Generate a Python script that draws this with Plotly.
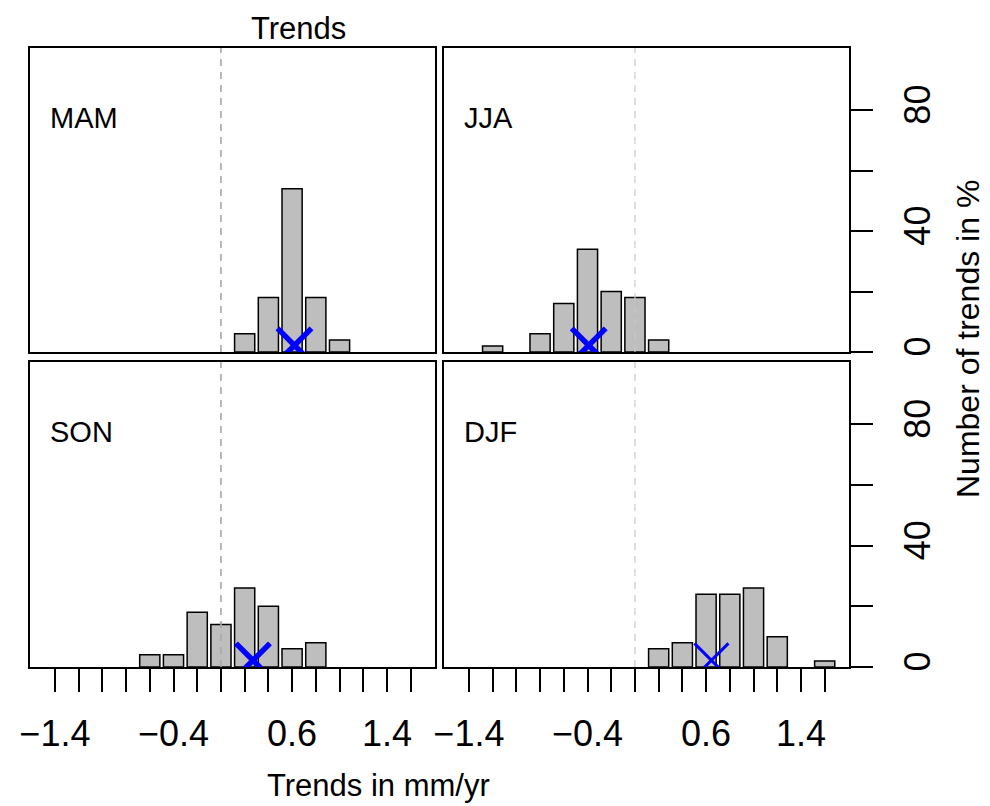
import plotly.graph_objects as go

# ---------------- data ----------------
seasons = ["MAM", "JJA", "SON", "DJF"]
mam_bins = [0.2, 0.4, 0.6, 0.8, 1.0]
mam_pct = [6, 18, 54, 18, 4]
jja_bins = [-1.2, -0.8, -0.6, -0.4, -0.2, 0.0, 0.2]
jja_pct = [2, 6, 16, 34, 20, 18, 4]
son_bins = [-0.6, -0.4, -0.2, 0.0, 0.2, 0.4, 0.6, 0.8]
son_pct = [4, 4, 18, 14, 26, 20, 6, 8]
djf_bins = [0.2, 0.4, 0.6, 0.8, 1.0, 1.2, 1.6]
djf_pct = [6, 8, 24, 24, 26, 10, 2]
observed_trend = [0.62, -0.39, 0.27, 0.645]
x_tick_vals = [-1.4, -1.2, -1.0, -0.8, -0.6, -0.4, -0.2, 0.0, 0.2, 0.4, 0.6, 0.8, 1.0, 1.2, 1.4, 1.6]
x_tick_labels = {-1.4: "\u22121.4", -0.4: "\u22120.4", 0.6: "0.6", 1.4: "1.4"}
y_tick_vals = [0, 20, 40, 60, 80]
y_tick_text = ["0", "", "40", "", "80"]

bins = [mam_bins, jja_bins, son_bins, djf_bins]
pcts = [mam_pct, jja_pct, son_pct, djf_pct]

# page body has an 8px default margin -> figure is drawn 8px in from the corner
OFF = 8
W, H = 990 - OFF, 806 - OFF
FONT = "Liberation Sans, Arial, Helvetica, sans-serif"


def px(x):
    return (x - OFF) / W


def py(y):
    return 1 - (y - OFF) / H


# panel pixel boxes in window coordinates (left, right, top, bottom)
panels = [(30, 435, 48, 352), (444, 849, 48, 352), (30, 435, 362, 667), (444, 849, 362, 667)]
x_range = [-1.61, 1.805]
y_range = [0, 100.5]
mark_lw = [5.5, 5.5, 5.5, 3]

fig = go.Figure()
layout = dict(
    width=W, height=H, margin=dict(l=0, r=0, t=0, b=0, autoexpand=False),
    paper_bgcolor="white", plot_bgcolor="white", showlegend=False,
    font=dict(family=FONT, color="black"),
)

shapes = []
annotations = []
tick_text_full = [x_tick_labels.get(round(v, 1), "") for v in x_tick_vals]

for i in range(4):
    n = "" if i == 0 else str(i + 1)
    xa, ya = "x" + n, "y" + n
    l, r, t, b = panels[i]
    fig.add_trace(go.Bar(
        x=bins[i], y=pcts[i], width=0.17, xaxis=xa, yaxis=ya,
        marker=dict(color="#BEBEBE", line=dict(color="black", width=1.5)),
    ))
    fig.add_trace(go.Scatter(
        x=[observed_trend[i]], y=[2.2], mode="markers", xaxis=xa, yaxis=ya,
        cliponaxis=True,
        marker=dict(symbol="x-thin", size=34, color="#0000FF",
                    line=dict(color="#0000FF", width=mark_lw[i])),
    ))
    bottom = i >= 2
    right = i % 2 == 1
    layout["xaxis" + n] = dict(
        domain=[px(l), px(r)], anchor=ya, range=x_range, automargin=False,
        showgrid=False, zeroline=False, showline=True, mirror=True,
        linecolor="black", linewidth=1.6,
        ticks="outside" if bottom else "", ticklen=23, tickwidth=1.5, tickcolor="black",
        tickvals=x_tick_vals, ticktext=tick_text_full,
        showticklabels=bottom, tickfont=dict(size=36, family=FONT),
        ticklabelstandoff=11,
    )
    layout["yaxis" + n] = dict(
        domain=[py(b), py(t)], anchor=xa, range=y_range, automargin=False,
        showgrid=False, zeroline=False, showline=True, mirror=True,
        linecolor="black", linewidth=1.6,
        side="right" if right else "left",
        ticks="outside" if right else "", ticklen=22, tickwidth=1.5, tickcolor="black",
        tickvals=y_tick_vals, ticktext=y_tick_text,
        showticklabels=right, tickangle=-90, tickfont=dict(size=36, family=FONT),
        ticklabelstandoff=14,
    )
    shapes.append(dict(
        type="line", xref=xa, yref=ya + " domain", x0=0, x1=0, y0=0, y1=1,
        line=dict(color="#A8A8A8" if not right else "#C8C8C8",
                  width=1.6 if not right else 1.2, dash="7px,6px"),
        layer="above",
    ))
    annotations.append(dict(
        text=seasons[i], xref="paper", yref="paper",
        x=px(l + 18), y=py(t + 70), xanchor="left", yanchor="middle",
        showarrow=False, font=dict(size=29, family=FONT, color="black"),
    ))

annotations.append(dict(text="Trends", xref="paper", yref="paper", x=px(298), y=py(28),
                        xanchor="center", yanchor="middle", showarrow=False,
                        font=dict(size=31, family=FONT)))
annotations.append(dict(text="Trends in mm/yr", xref="paper", yref="paper", x=px(378), y=py(785),
                        xanchor="center", yanchor="middle", showarrow=False,
                        font=dict(size=31, family=FONT)))
annotations.append(dict(text="Number of trends in %", xref="paper", yref="paper", x=px(968), y=py(339),
                        xanchor="center", yanchor="middle", showarrow=False, textangle=-90,
                        font=dict(size=32, family=FONT)))

layout["shapes"] = shapes
layout["annotations"] = annotations
fig.update_layout(**layout)
fig.write_html("out.html")
